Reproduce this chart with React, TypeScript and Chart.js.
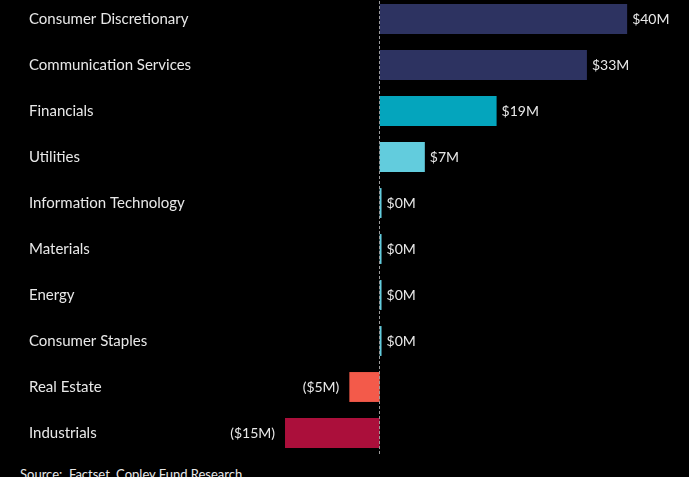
import React, { useEffect, useRef } from "react";
import { Chart, registerables } from "chart.js";

Chart.register(...registerables);

const categories = [
  "Consumer Discretionary",
  "Communication Services",
  "Financials",
  "Utilities",
  "Information Technology",
  "Materials",
  "Energy",
  "Consumer Staples",
  "Real Estate",
  "Industrials",
];
const values = [40, 33.5, 18.9, 7.3, 0.3, 0.3, 0.3, 0.3, -4.9, -15.3];
const valueLabels = ["$40M", "$33M", "$19M", "$7M", "$0M", "$0M", "$0M", "$0M", "($5M)", "($15M)"];
const barColors = [
  "#2D3361",
  "#2D3361",
  "#04A5BD",
  "#62CCDD",
  "#62CCDD",
  "#62CCDD",
  "#62CCDD",
  "#62CCDD",
  "#F35A4A",
  "#AB0F3B",
];
const sourceText = "Source:  Factset, Copley Fund Research";

const FONT = "Lato, 'Open Sans', sans-serif";
const TEXT = "#E8E8E8";

const labelPlugin = {
  id: "valueLabels",
  afterDatasetsDraw(chart: any) {
    const ctx = chart.ctx;
    const meta = chart.getDatasetMeta(0);
    const xScale = chart.scales.x;
    const zeroX = xScale.getPixelForValue(0);
    ctx.save();
    ctx.strokeStyle = "#9A9A9A";
    ctx.lineWidth = 1;
    ctx.setLineDash([3, 2]);
    ctx.beginPath();
    ctx.moveTo(Math.round(zeroX) - 0.5, chart.chartArea.top);
    ctx.lineTo(Math.round(zeroX) - 0.5, chart.chartArea.bottom);
    ctx.stroke();
    ctx.setLineDash([]);
    ctx.font = `14px ${FONT}`;
    ctx.fillStyle = TEXT;
    ctx.textBaseline = "middle";
    meta.data.forEach((bar: any, i: number) => {
      const v = values[i];
      if (v >= 0) {
        ctx.textAlign = "left";
        ctx.fillText(valueLabels[i], bar.x + 5, bar.y);
      } else {
        ctx.textAlign = "right";
        ctx.fillText(valueLabels[i], bar.x - 10, bar.y);
      }
    });
    ctx.restore();
  },
};

export default function App() {
  const ref = useRef<HTMLCanvasElement>(null);
  useEffect(() => {
    document.body.style.margin = "0";
    document.body.style.background = "#000";
    const chart = new Chart(ref.current!, {
      type: "bar",
      data: {
        labels: categories,
        datasets: [
          {
            data: values,
            backgroundColor: barColors,
            borderWidth: 0,
            barPercentage: 0.65,
            categoryPercentage: 1,
          },
        ],
      },
      options: {
        indexAxis: "y",
        animation: false,
        responsive: false,
        maintainAspectRatio: false,
        layout: { padding: { left: 29, right: 0, top: 0, bottom: 0 } },
        plugins: { legend: { display: false }, tooltip: { enabled: false } },
        scales: {
          x: {
            min: -25,
            max: 50,
            afterFit(scale: any) {
              scale.height = 0;
            },
            ticks: { display: false },
            grid: { display: false, drawTicks: false },
            border: { display: false },
          },
          y: {
            afterFit(scale: any) {
              scale.width = 196;
              scale.paddingTop = 0;
              scale.paddingBottom = 0;
            },
            ticks: {
              crossAlign: "far",
              color: TEXT,
              font: { family: FONT, size: 15, lineHeight: 0.001 },
              padding: 0,
            },
            grid: { display: false, drawTicks: false },
            border: { display: false },
          },
        },
      },
      plugins: [labelPlugin],
    });
    return () => chart.destroy();
  }, []);
  return (
    <div style={{ position: "relative", width: 689, height: 477, background: "#000", overflow: "hidden" }}>
      <canvas
        ref={ref}
        width={689}
        height={460}
        style={{ position: "absolute", left: 0, top: -4, width: 689, height: 460 }}
      />
      <div
        style={{
          position: "absolute",
          left: 20,
          top: 467,
          color: TEXT,
          fontFamily: FONT,
          fontSize: 13,
          whiteSpace: "pre",
          lineHeight: "15px",
        }}
      >
        {sourceText}
      </div>
    </div>
  );
}
